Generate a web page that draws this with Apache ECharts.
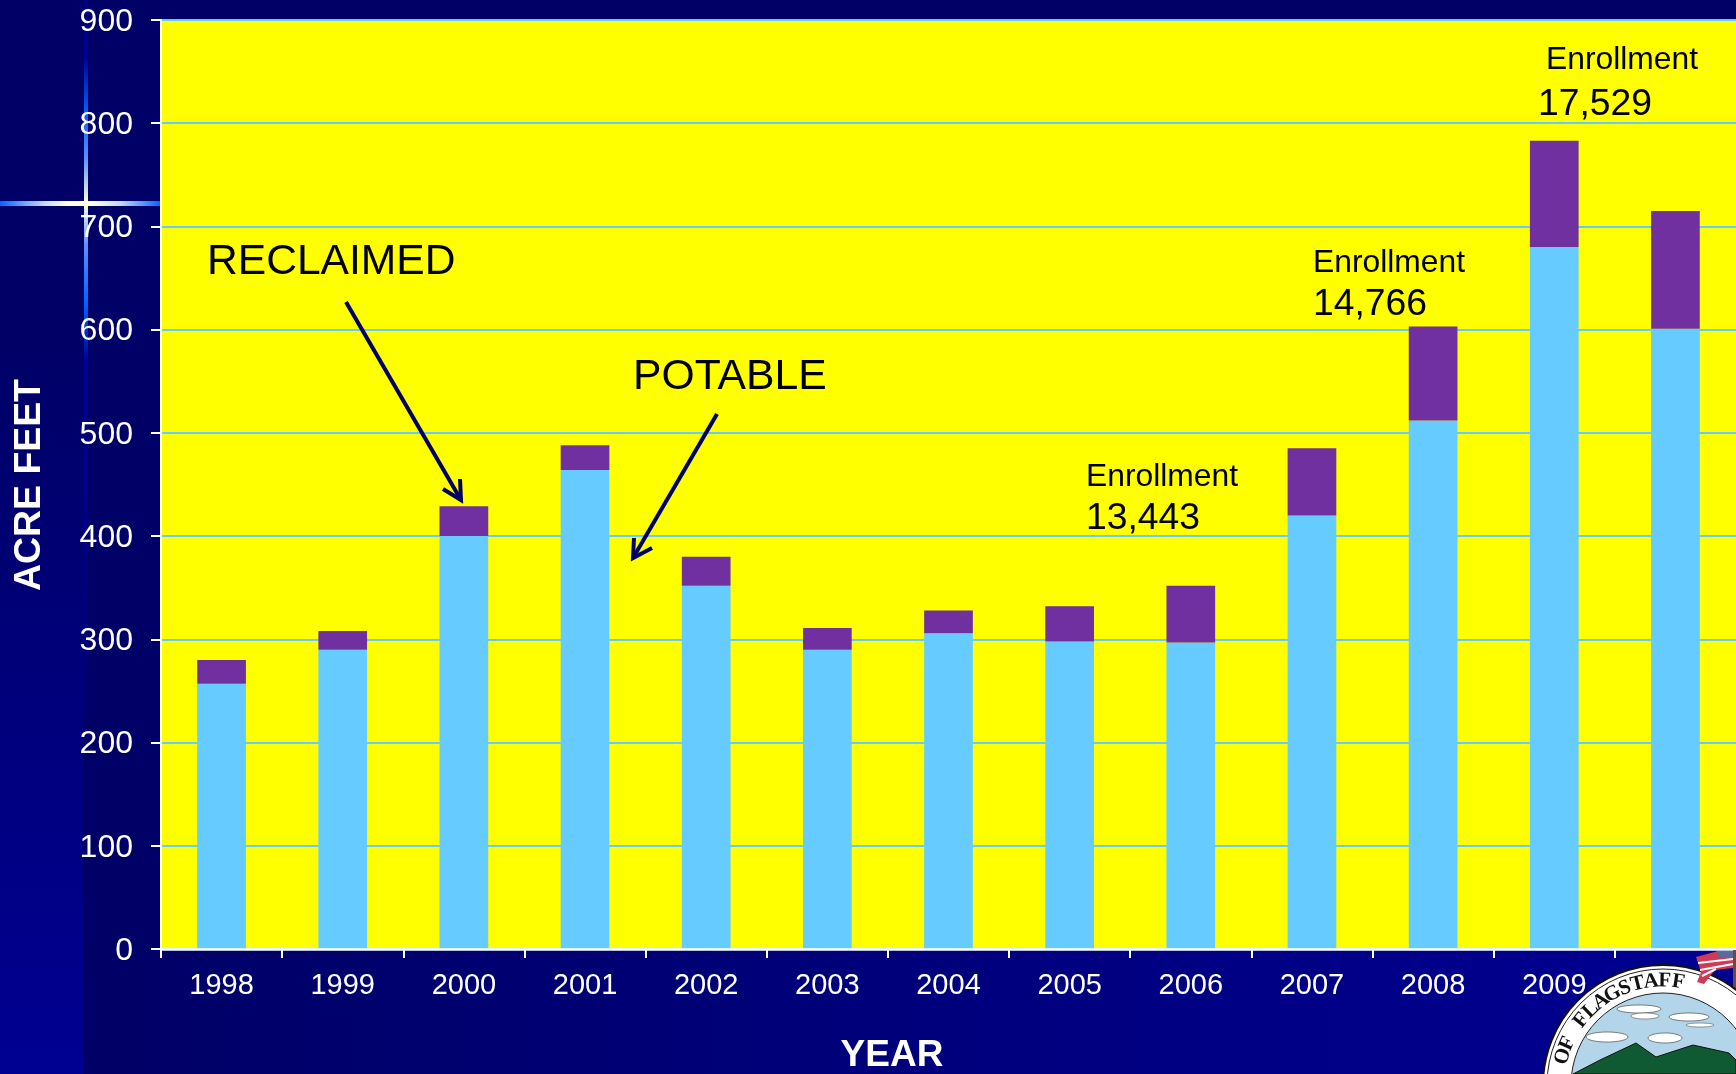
<!DOCTYPE html>
<html>
<head>
<meta charset="utf-8">
<style>html,body{margin:0;padding:0;background:#000066;overflow:hidden}#c{width:1736px;height:1074px}</style>
<script src="https://cdn.jsdelivr.net/npm/echarts@6/dist/echarts.min.js"></script>
</head>
<body>
<div id="c"></div>
<script>
const years = ['1998','1999','2000','2001','2002','2003','2004','2005','2006','2007','2008','2009','2010'];
const potable = [257,290,400,464,352,290,306,298,297,420,512,680,601];
const reclaimed = [23,18,29,24,28,21,22,34,55,65,91,103,114];
const yTicks = {min:0,max:900,interval:100};
const sealLetters = ['O','F','','F','L','A','G','S','T','A','F','F'];

const FONT = '"Liberation Sans", Arial, sans-serif';
const chart = echarts.init(document.getElementById('c'), null, {renderer:'canvas'});

function label(text, x, y, size){
  return {type:'text', z:50, x, y, style:{text, fill:'#000', font:size+'px '+FONT}};
}
function arrow(from, to, b1, b2){
  const s = {stroke:'#000066', lineWidth:4, fill:null};
  return [
    {type:'line', z:50, shape:{x1:from[0],y1:from[1],x2:to[0],y2:to[1]}, style:s},
    {type:'polyline', z:50, shape:{points:[b1,to,b2]}, style:s}
  ];
}
function grad(x,y,x2,y2,stops){return {type:'linear',x,y,x2,y2,global:false,colorStops:stops.map(s=>({offset:s[0],color:s[1]}))};}

const cx=1663, cy=1085;
const sealGraphics = [
  {type:'circle',z:60,shape:{cx,cy,r:120},style:{fill:'#fff',stroke:'#111',lineWidth:2}},
  {type:'circle',z:60,shape:{cx,cy,r:116},style:{fill:null,stroke:'#222',lineWidth:1}},
  {type:'circle',z:61,shape:{cx,cy,r:92},style:{fill:'#b2d5ea',stroke:'#222',lineWidth:1}},
  {type:'polygon',z:62,shape:{points:[[1573,1074],[1600,1060],[1636,1043],[1656,1057],[1693,1045],[1729,1053],[1736,1060],[1736,1074]]},style:{fill:'#0f5a32',stroke:'#111',lineWidth:1}},
  {type:'ellipse',z:62,shape:{cx:1639,cy:1009,rx:22,ry:4},style:{fill:'#fff',stroke:'#333',lineWidth:.6}},
  {type:'ellipse',z:62,shape:{cx:1645,cy:1016,rx:14,ry:3},style:{fill:'#fff',stroke:'#555',lineWidth:.6}},
  {type:'ellipse',z:62,shape:{cx:1689,cy:1017,rx:20,ry:4},style:{fill:'#fff',stroke:'#333',lineWidth:.6}},
  {type:'ellipse',z:62,shape:{cx:1700,cy:1025,rx:14,ry:2},style:{fill:'#fff',stroke:'#555',lineWidth:.6}},
  {type:'ellipse',z:62,shape:{cx:1607,cy:1037,rx:21,ry:5},style:{fill:'#fff',stroke:'#333',lineWidth:.6}},
  {type:'ellipse',z:62,shape:{cx:1665,cy:1038,rx:17,ry:5},style:{fill:'#fff',stroke:'#333',lineWidth:.6}},
  {type:'rect',z:59,shape:{x:1733,y:950,width:3,height:40},style:{fill:'#6b4a40'}},
  {type:'polygon',z:63,shape:{points:[[1696,957],[1718,951],[1733,951],[1733,968],[1715,970],[1704,984],[1697,982],[1701,972]]},style:{fill:'#d03a55'}},
  {type:'polyline',z:64,shape:{points:[[1698,963],[1733,959]]},style:{stroke:'#fff',lineWidth:2,fill:null}},
  {type:'polyline',z:64,shape:{points:[[1700,970],[1733,964]]},style:{stroke:'#fff',lineWidth:2,fill:null}},
  {type:'polyline',z:64,shape:{points:[[1702,976],[1716,969]]},style:{stroke:'#fff',lineWidth:2,fill:null}},
  {type:'rect',z:64,shape:{x:1717,y:951,width:16,height:7},style:{fill:'#5a6a9a'}}
];
const R=104, start=-74, step=7.5;
sealLetters.forEach((ch,i)=>{
  if(!ch) return;
  const a=(start+step*i)*Math.PI/180;
  sealGraphics.push({type:'text',z:65,x:cx+R*Math.sin(a),y:cy-R*Math.cos(a),rotation:-a,
    style:{text:ch,fill:'#111',font:'bold 21px "Liberation Serif", serif',align:'center',verticalAlign:'middle'}});
});

const option = {
  animation:false,
  backgroundColor:'#000066',
  textStyle:{fontFamily:FONT},
  grid:{left:161,top:20,width:1577,height:929,show:true,backgroundColor:'#ffff00',borderWidth:0,containLabel:false},
  xAxis:{type:'category',data:years,z:5,
    axisLine:{show:true,onZero:false,lineStyle:{color:'#fff',width:2.5}},
    axisTick:{show:true,alignWithLabel:false,length:9,lineStyle:{color:'#fff',width:2}},
    axisLabel:{color:'#fff',fontSize:29,fontFamily:FONT,margin:22,interval:0,formatter:v=>v==='2010'?'':v},
    splitLine:{show:false}
  },
  yAxis:{type:'value',min:yTicks.min,max:yTicks.max,interval:yTicks.interval,
    axisLine:{show:true,lineStyle:{color:'#fff',width:2}},
    axisTick:{show:true,length:10,lineStyle:{color:'#fff',width:2}},
    axisLabel:{color:'#fff',fontSize:32,fontFamily:FONT,margin:28,formatter:v=>'{n|'+v+'}',
      rich:{n:{color:'#fff',fontSize:32,fontFamily:FONT,padding:[4,0,0,0]}}},
    splitLine:{show:true,lineStyle:{color:'#66ccff',width:2}}
  },
  series:[
    {name:'Potable',type:'bar',stack:'w',data:potable,barWidth:48.7,itemStyle:{color:'#66ccff'}},
    {name:'Reclaimed',type:'bar',stack:'w',data:reclaimed,barWidth:48.7,itemStyle:{color:'#7030a0'}}
  ],
  graphic:{elements:[
    {type:'rect',z:-10,shape:{x:0,y:0,width:84,height:1074},style:{fill:grad(0,0,0,1,[[0,'#000066'],[0.3,'#000066'],[1,'#000092']])}},
    {type:'rect',z:-10,shape:{x:84,y:949,width:1652,height:125},style:{fill:grad(0,0,1,0,[[0,'#000066'],[1,'#000092']])}},
    {type:'rect',z:-9,shape:{x:84,y:0,width:4,height:720},style:{fill:grad(0,0,0,1,[[0,'#000080'],[0.08,'#000099'],[0.16,'#0066ff'],[0.22,'#5a90ff'],[0.282,'#ffffe0'],[0.34,'#5a90ff'],[0.42,'#0066ff'],[0.5,'#000099'],[1,'#000070']])}},
    {type:'rect',z:-9,shape:{x:0,y:201,width:160,height:5},style:{fill:grad(0,0,1,0,[[0,'#0066ff'],[0.28,'#c8d8f0'],[0.42,'#ffffe0'],[0.58,'#ffffe0'],[0.75,'#c8d8f0'],[1,'#0066ff']])}},
    {type:'text',z:20,x:30,y:485,rotation:Math.PI/2,style:{text:'ACRE FEET',fill:'#fff',font:'bold 37.4px '+FONT,align:'center',verticalAlign:'middle'}},
    {type:'text',z:20,x:892,y:1056,style:{text:'YEAR',fill:'#fff',font:'bold 37px '+FONT,align:'center',verticalAlign:'middle'}},
    label('RECLAIMED',207,241,42.6),
    label('POTABLE',633,356,42.7),
    label('Enrollment',1086,461,31.8),
    label('13,443',1086,500,37.3),
    label('Enrollment',1313,247,31.8),
    label('14,766',1313,286,37.3),
    label('Enrollment',1546,44,31.8),
    label('17,529',1538,86,37.3),
    ...arrow([346,302],[461,500],[460,479],[443,489]),
    ...arrow([717,414],[633,558],[634,538],[652,548]),
    ...sealGraphics
  ]}
};
chart.setOption(option);
</script>
</body>
</html>
